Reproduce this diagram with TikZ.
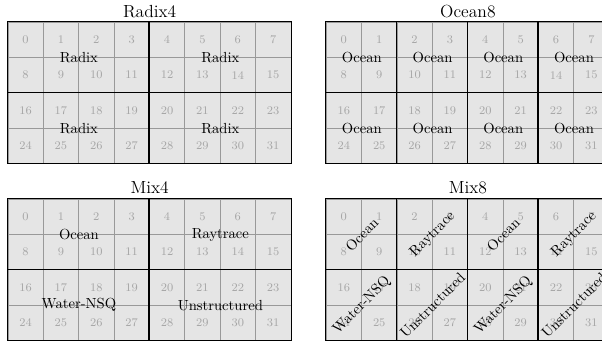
\documentclass[tikz,border=0pt]{standalone}
\usepackage{tikz}
\usetikzlibrary{positioning,calc}

\begin{document}
\begin{tikzpicture}[
    x=0.85cm, y=0.85cm,
    cell/.style={
      draw=black!40,
      fill=black!10,
      thin,
      minimum size=0.85cm,
      inner sep=0pt,
      text=black!35,
      font=\footnotesize
    },
    blockline/.style={
      thick,
      black
    },
    paneltitle/.style={
      anchor=base,
      yshift=3.2pt,
      font=\large
    },
    tasklabel/.style={
      inner sep=1pt,
      font=\normalsize
    },
    tasklabelrot/.style={
      tasklabel,
      rotate=45
    }
  ]

  \useasboundingbox (-0.2235,0.624) rectangle (16.8,-9.05);

  % 四个面板的格子
  \foreach \px/\py/\pn/\ptitle in {0/0/rad/Radix4, 9/0/oce/Ocean8, 0/-5/mxa/Mix4, 9/-5/mxb/Mix8}{
    \foreach \n in {0,...,31}{
      \pgfmathtruncatemacro{\col}{mod(\n,8)}
      \pgfmathtruncatemacro{\row}{floor(\n/8)}
      \node[cell] (\pn-\n) at (\px+\col+0.5, \py-\row-0.5) {\n};
    }
    \node[paneltitle] (\pn-title) at (\pn-3.north east) {\ptitle};
    \draw[blockline] (\pn-0.north west) rectangle (\pn-31.south east);
    \draw[blockline] (\pn-16.north west) -- (\pn-23.north east);
  }

  % 4 分组：Radix4 与 Mix4
  \foreach \pn in {rad,mxa}{
    \draw[blockline] (\pn-4.north west) -- (\pn-28.south west);
  }
  \node[tasklabel] (rad-l0) at (rad-1.south east) {Radix};
  \node[tasklabel] (rad-l1) at (rad-5.south east) {Radix};
  \node[tasklabel] (rad-l2) at (rad-17.south east) {Radix};
  \node[tasklabel] (rad-l3) at (rad-21.south east) {Radix};

  \node[tasklabel] (mxa-l0) at (mxa-1.south east) {Ocean};
  \node[tasklabel] (mxa-l1) at (mxa-5.south east) {Raytrace};
  \node[tasklabel] (mxa-l2) at (mxa-17.south east) {Water-NSQ};
  \node[tasklabel] (mxa-l3) at (mxa-21.south east) {Unstructured};

  % 8 分组：Ocean8 与 Mix8
  \foreach \pn in {oce,mxb}{
    \foreach \k in {2,4,6}{
      \pgfmathtruncatemacro{\m}{\k+24}
      \draw[blockline] (\pn-\k.north west) -- (\pn-\m.south west);
    }
  }
  \foreach \k in {0,2,4,6}{
    \pgfmathtruncatemacro{\m}{\k+16}
    \node[tasklabel] (oce-t\k) at (oce-\k.south east) {Ocean};
    \node[tasklabel] (oce-b\k) at (oce-\m.south east) {Ocean};
  }
  \foreach \k/\top/\bot in {0/Ocean/Water-NSQ, 2/Raytrace/Unstructured, 4/Ocean/Water-NSQ, 6/Raytrace/Unstructured}{
    \pgfmathtruncatemacro{\m}{\k+16}
    \node[tasklabelrot] (mxb-t\k) at (mxb-\k.south east) {\top};
    \node[tasklabelrot] (mxb-b\k) at (mxb-\m.south east) {\bot};
  }

\end{tikzpicture}
\end{document}
